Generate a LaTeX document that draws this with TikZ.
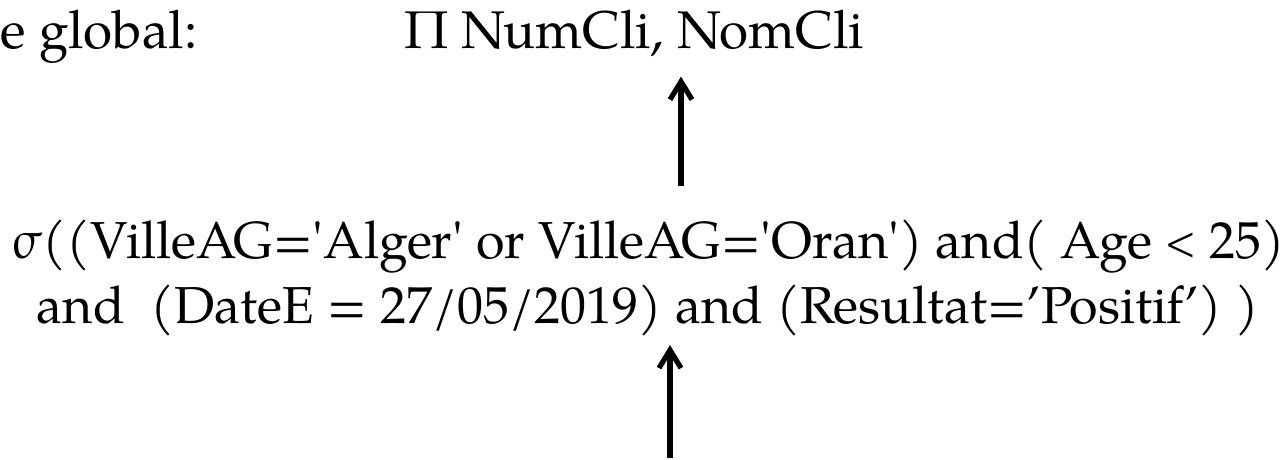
\documentclass[tikz,border=0pt]{standalone}
\usepackage{fontspec}
\setmainfont{TeX Gyre Pagella}
\usetikzlibrary{arrows.meta}
\tikzset{
  algtext/.style={inner sep=0pt, font=\fontsize{26.5}{32.5}\selectfont},
  flow/.style={-{Straight Barb[length=9pt,width=11pt]}, line width=2.6pt, black}
}
\newcommand{\petitinf}{\raisebox{1.5pt}{\fontsize{20}{20}\selectfont<}}
\begin{document}
\begin{tikzpicture}[x=0.5pt,y=-0.5pt]
  % cadre
  \useasboundingbox (0,0) rectangle (1287,460);
  % textes
  \node[algtext, anchor=base west] (titre) at (0,49) {e global:};
  \node[algtext, anchor=base] (proj) at (634,49) {Π NumCli, NomCli};
  \node[algtext, font=\fontsize{26}{32.5}\selectfont, align=center, anchor=base] (sel) at (648,323)
    {σ((VilleAG=\textquotesingle Alger\textquotesingle{} or VilleAG=\textquotesingle Oran\textquotesingle) and( Age \petitinf{} 25)\\
     and\ \ (DateE = 27/05/2019) and (Resultat=’Positif’) )};
  % fleches
  \coordinate (haut) at (681,0);
  \coordinate (bas) at (670,458);
  \draw[flow, shorten <=16.5pt, shorten >=9.5pt] (haut |- sel.north) -- (haut |- proj.south);
  \draw[flow, shorten >=4.5pt] (bas) -- (bas |- sel.south);
\end{tikzpicture}
\end{document}
